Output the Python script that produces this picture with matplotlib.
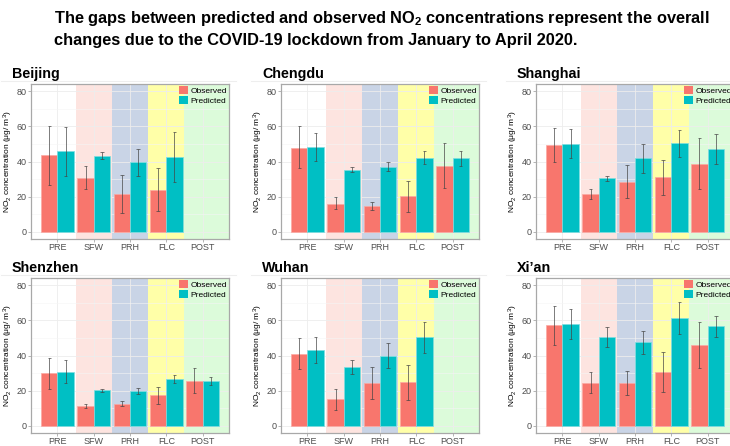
import numpy as np
import matplotlib.pyplot as plt
from matplotlib.lines import Line2D
from matplotlib.patches import Patch

nan = np.nan

periods = ["PRE", "SFW", "PRH", "FLC", "POST"]
cities = ["Beijing", "Chengdu", "Shanghai", "Shenzhen", "Wuhan", "Xi\u2019an"]

# observed NO2 mean and error-bar ends (ug/m3)
obs_mean = {
    "Beijing": [43.5, 30.8, 21.5, 23.8, nan],
    "Chengdu": [47.8, 16.1, 14.6, 20.2, 37.6],
    "Shanghai": [49.1, 21.4, 28.4, 31.2, 38.7],
    "Shenzhen": [30.0, 11.4, 12.7, 17.3, 25.8],
    "Wuhan": [41.1, 15.2, 24.3, 24.7, nan],
    "Xi\u2019an": [57.1, 24.6, 24.6, 30.5, 45.9],
}
obs_low = {
    "Beijing": [26.8, 24.2, 10.6, 11.7, nan],
    "Chengdu": [36.1, 12.9, 12.3, 11.5, 25.1],
    "Shanghai": [39.7, 18.9, 19.1, 21.2, 24.6],
    "Shenzhen": [21.2, 10.2, 11.2, 12.5, 18.6],
    "Wuhan": [32.3, 9.3, 15.4, 14.8, nan],
    "Xi\u2019an": [46.1, 18.5, 17.3, 19.0, 33.0],
}
obs_high = {
    "Beijing": [60.0, 37.2, 32.3, 36.5, nan],
    "Chengdu": [59.9, 19.7, 16.8, 28.7, 50.5],
    "Shanghai": [58.8, 24.2, 37.8, 41.0, 53.3],
    "Shenzhen": [38.7, 12.5, 14.2, 22.0, 32.8],
    "Wuhan": [50.0, 20.9, 33.6, 34.4, nan],
    "Xi\u2019an": [68.2, 30.5, 31.4, 41.9, 59.0],
}
pred_mean = {
    "Beijing": [45.7, 42.9, 39.5, 42.3, nan],
    "Chengdu": [48.0, 35.4, 37.1, 42.2, 41.8],
    "Shanghai": [50.1, 30.4, 41.8, 50.5, 47.2],
    "Shenzhen": [30.9, 20.3, 20.1, 26.7, 25.6],
    "Wuhan": [43.3, 33.7, 39.9, 50.6, nan],
    "Xi\u2019an": [57.9, 50.5, 47.6, 61.1, 56.6],
}
pred_low = {
    "Beijing": [31.6, 41.4, 31.9, 28.2, nan],
    "Chengdu": [40.1, 34.0, 34.8, 38.4, 37.6],
    "Shanghai": [42.0, 29.1, 33.6, 42.5, 38.6],
    "Shenzhen": [24.5, 19.3, 18.4, 24.5, 23.3],
    "Wuhan": [35.7, 29.3, 32.9, 41.4, nan],
    "Xi\u2019an": [49.3, 45.1, 41.1, 52.0, 50.5],
}
pred_high = {
    "Beijing": [59.7, 45.2, 47.3, 56.7, nan],
    "Chengdu": [56.0, 36.9, 39.5, 45.9, 46.1],
    "Shanghai": [58.4, 31.8, 49.9, 58.0, 55.7],
    "Shenzhen": [37.5, 21.2, 21.6, 29.0, 27.9],
    "Wuhan": [50.6, 37.6, 47.0, 59.3, nan],
    "Xi\u2019an": [66.5, 56.0, 53.9, 70.5, 62.5],
}

band_colors = [None, "#FDE4E0", "#C9D4E6", "#FFFFA8", "#DCFBDA"]
obs_color = "#F8766D"
pred_color = "#00BFC4"

plt.rcParams["font.family"] = ["Liberation Sans", "DejaVu Sans"]
plt.rcParams["mathtext.fontset"] = "custom"
plt.rcParams["mathtext.rm"] = "Liberation Sans"
plt.rcParams["mathtext.it"] = "Liberation Sans:italic"
plt.rcParams["mathtext.bf"] = "Liberation Sans:bold"

W, H = 730, 446
fig = plt.figure(figsize=(W / 100, H / 100), dpi=100)

title_kw = dict(fontsize=11.8, fontweight="bold", va="center", ha="left")
fig.text(54 / W, 1 - 19 / H,
         "The gaps between predicted and observed NO$_\\mathbf{2}$ concentrations represent the overall", **title_kw)
fig.text(54 / W, 1 - 41 / H, "changes due to the COVID-19 lockdown from January to April 2020.", **title_kw)

col_left = [31, 281, 536]
row_top = [84, 278]
ax_w, ax_h = 198, 155

x = np.arange(1, len(periods) + 1)
xlo, xhi = 0.27, 5.73

for i, city in enumerate(cities):
    r, c = divmod(i, 3)
    left = col_left[c]
    top = row_top[r]
    ax = fig.add_axes([left / W, 1 - (top + ax_h) / H, ax_w / W, ax_h / H])

    # faint separator line above each panel (edges of the pasted sub-figures)
    fig.add_artist(Line2D([(left - 30) / W, (left + 205) / W], [1 - (top - 3) / H] * 2,
                          color="#EEEEEE", lw=0.8))

    ax.set_xlim(xlo, xhi)
    ax.set_ylim(-4, 84)
    ax.set_axisbelow(True)
    ax.set_yticks([0, 20, 40, 60, 80])
    ax.set_yticks([10, 30, 50, 70], minor=True)
    ax.set_xticks(x)
    ax.set_xticklabels(periods)
    ax.grid(True, which="major", color="#EDEDED", lw=0.6)
    ax.grid(True, which="minor", axis="y", color="#F5F5F5", lw=0.4)

    for k, bc in enumerate(band_colors):
        if bc is None:
            continue
        x0 = x[k] - 0.5
        x1 = xhi if k == len(periods) - 1 else x[k] + 0.5
        ax.axvspan(x0, x1, color=bc, lw=0, zorder=0.5)

    om = np.array(obs_mean[city])
    pm = np.array(pred_mean[city])
    ok = ~np.isnan(om)
    ax.bar(x[ok] - 0.225, om[ok], width=0.45, color=obs_color, edgecolor="#FBA9A3", lw=0.5, zorder=2)
    ax.bar(x[ok] + 0.225, pm[ok], width=0.45, color=pred_color, edgecolor="#7FDDE0", lw=0.5, zorder=2)

    ol = np.array(obs_low[city])[ok]
    oh = np.array(obs_high[city])[ok]
    pl = np.array(pred_low[city])[ok]
    ph = np.array(pred_high[city])[ok]
    for xs, lo, hi in ((x[ok] - 0.225, ol, oh), (x[ok] + 0.225, pl, ph)):
        ax.vlines(xs, lo, hi, color="#444444", lw=0.7, alpha=0.7, zorder=3)
        ax.hlines(np.concatenate([lo, hi]), np.concatenate([xs, xs]) - 0.05,
                  np.concatenate([xs, xs]) + 0.05, color="#444444", lw=0.7, alpha=0.7, zorder=3)

    for s in ax.spines.values():
        s.set_color("#A8A8A8")
        s.set_linewidth(0.9)
    ax.tick_params(axis="both", which="major", labelsize=6.5, colors="#A8A8A8", labelcolor="#4D4D4D",
                   length=2, width=0.6, pad=1)
    ax.tick_params(axis="y", which="minor", length=0)
    ax.set_ylabel("NO$_2$ concentration (\u03bcg/ m$^3$)", fontsize=6, labelpad=1)

    handles = [Patch(facecolor=obs_color, edgecolor="none"), Patch(facecolor=pred_color, edgecolor="none")]
    ax.legend(handles, ["Observed", "Predicted"], loc="upper right", bbox_to_anchor=(1.0, 1.0),
              frameon=False, fontsize=6, handlelength=1.1, handleheight=1.1, handletextpad=0.25,
              labelspacing=0.1, borderaxespad=0.05, borderpad=0.2)

    fig.text((left - 19) / W, 1 - (top - 10) / H, city, fontsize=10.3, fontweight="bold", va="center", ha="left")

fig.savefig("out.png", dpi=100)
